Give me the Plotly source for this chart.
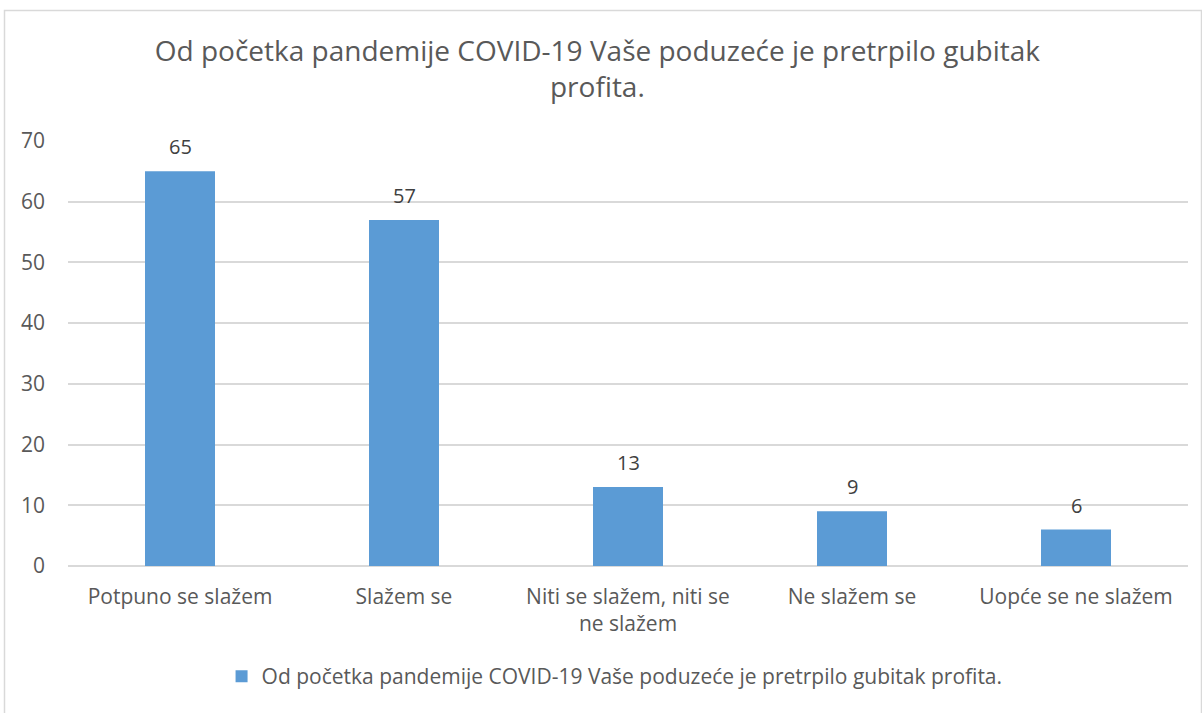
import plotly.graph_objects as go

categories = ["Potpuno se slažem", "Slažem se", "Niti se slažem, niti se<br>ne slažem", "Ne slažem se", "Uopće se ne slažem"]
values = [65, 57, 13, 9, 6]
series_name = "Od početka pandemije COVID-19 Vaše poduzeće je pretrpilo gubitak profita."
title_text = "Od početka pandemije COVID-19 Vaše poduzeće je pretrpilo gubitak<br>profita."
y_ticks = [0, 10, 20, 30, 40, 50, 60, 70]

FONT = "Open Sans"
GREY = "#595959"

fig = go.Figure()
fig.add_trace(go.Bar(
    x=categories, y=values, name=series_name,
    marker=dict(color="#5B9BD5", line=dict(width=0)),
    showlegend=True,
))
for c, v in zip(categories, values):
    fig.add_annotation(x=c, y=v, text=str(v), showarrow=False, yanchor="bottom", yshift=9,
                       font=dict(family=FONT, size=20, color="#404040"))

L, R, T, B = 68, 14, 141, 147
fig.update_layout(
    width=1202, height=713,
    margin=dict(l=L, r=R, t=T, b=B),
    paper_bgcolor="white", plot_bgcolor="white",
    bargap=0.6875,
    font=dict(family=FONT, color=GREY),
    title=dict(text=title_text, x=0.497, xanchor="center", y=0.915, yanchor="top",
               yref="container",
               font=dict(family=FONT, size=28, color=GREY)),
    xaxis=dict(showgrid=False, showline=False, ticks="", tickfont=dict(size=21, color=GREY),
               ticklabelstandoff=16),
    yaxis=dict(range=[0, 70], tickvals=y_ticks, showgrid=True, gridcolor="#D9D9D9", gridwidth=1.5,
               zeroline=True, zerolinecolor="#D9D9D9", zerolinewidth=1.5,
               tickfont=dict(size=21, color=GREY), ticks="", ticklabelstandoff=22),
    legend=dict(orientation="h", x=0.488, xanchor="center", y=-0.26, yanchor="middle",
                font=dict(size=21, color=GREY), itemwidth=30, itemsizing="constant"),
    showlegend=True,
)

W, H = 1202, 713
pw, ph = W - L - R, H - T - B
def px_to_xp(px): return (px - L) / pw
def py_to_yp(py): return (H - B - py) / ph
fig.add_shape(type="rect", xref="paper", yref="paper",
              x0=px_to_xp(4.5), x1=px_to_xp(1201.5), y0=py_to_yp(714), y1=py_to_yp(10.5),
              line=dict(color="#D9D9D9", width=1.5), layer="below")

fig.write_html("out.html", config={"displayModeBar": False},
               post_script="document.body.style.margin='0';document.body.style.overflow='hidden';")
